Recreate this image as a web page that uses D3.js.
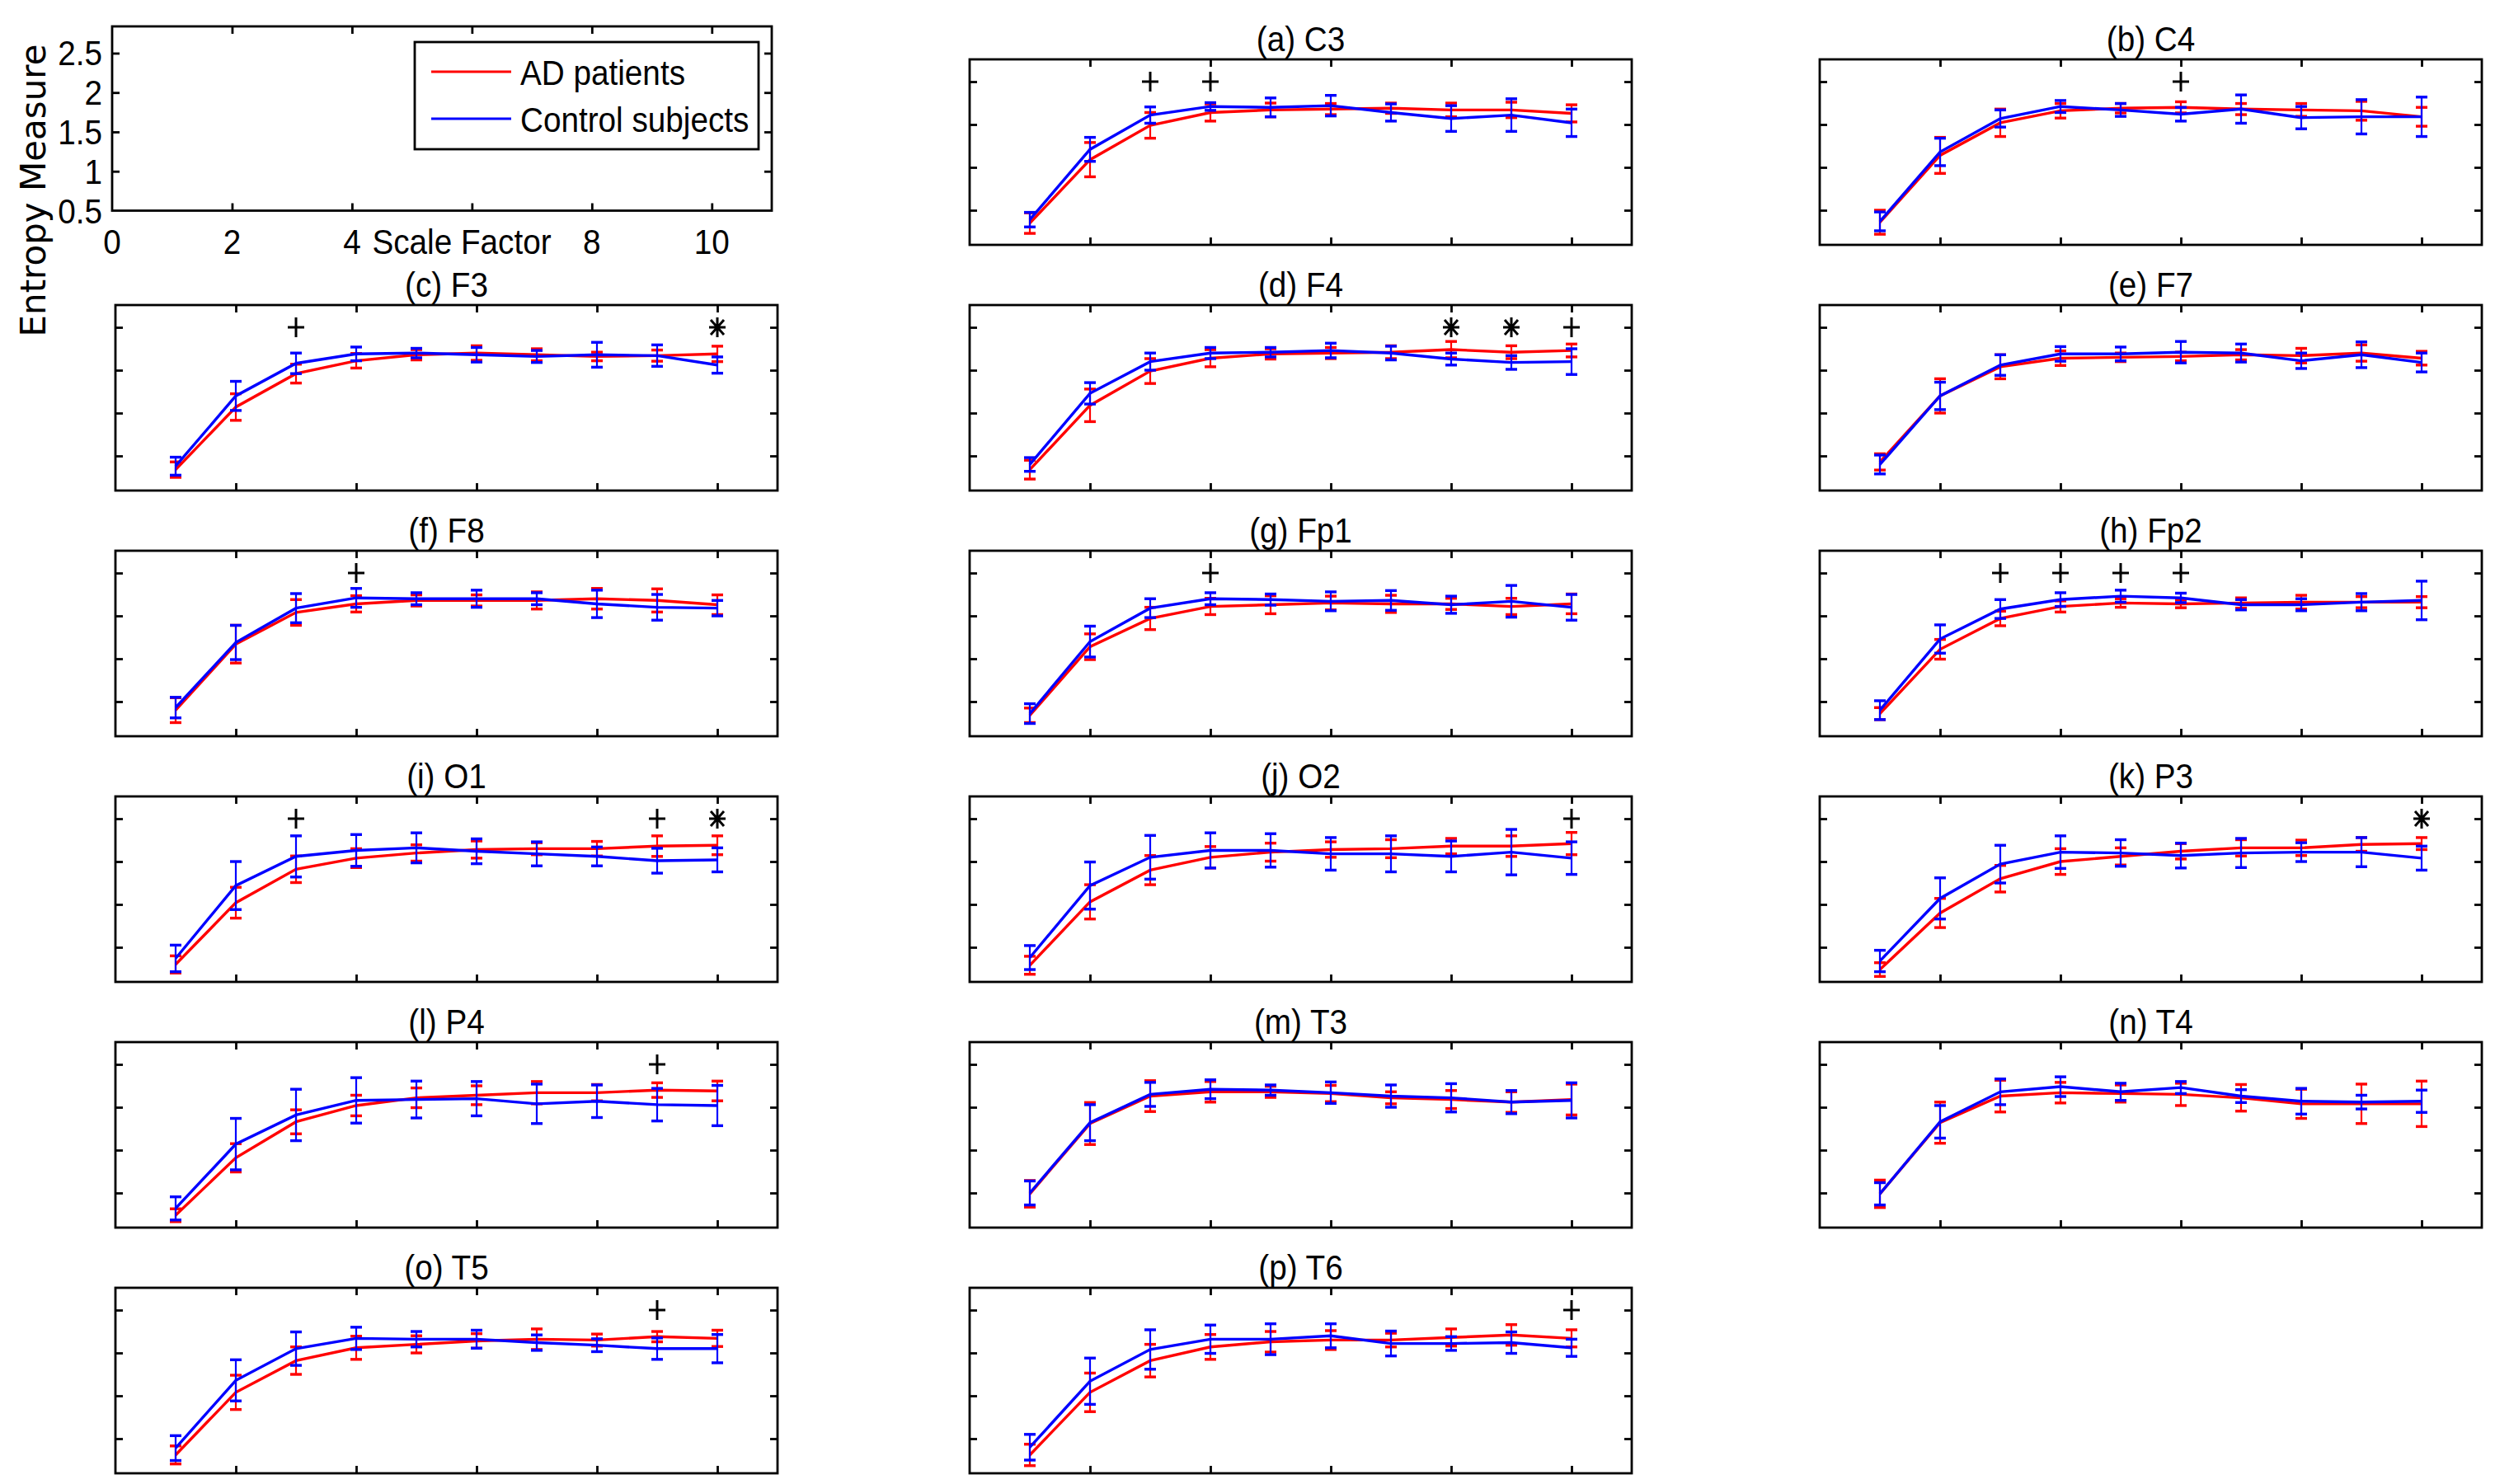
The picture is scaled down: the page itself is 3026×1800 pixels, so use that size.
<!DOCTYPE html>
<html><head><meta charset="utf-8">
<script src="https://cdn.jsdelivr.net/npm/d3@7"></script>
<style>html,body{margin:0;padding:0;background:#fff;}svg{display:block;}</style>
</head><body>
<svg id="chart" width="3026" height="1800"></svg>
<script>
const scales = [1,2,3,4,5,6,7,8,9,10];
const titles = ["(a) C3","(b) C4","(c) F3","(d) F4","(e) F7","(f) F8","(g) Fp1","(h) Fp2",
  "(i) O1","(j) O2","(k) P3","(l) P4","(m) T3","(n) T4","(o) T5","(p) T6"];
const adMean = [
  [0.35,1.09,1.49,1.64,1.67,1.68,1.69,1.67,1.67,1.63],
  [0.36,1.14,1.52,1.66,1.69,1.70,1.68,1.67,1.66,1.59],
  [0.34,1.07,1.46,1.61,1.68,1.70,1.68,1.66,1.67,1.69],
  [0.34,1.09,1.49,1.64,1.69,1.70,1.71,1.74,1.71,1.73],
  [0.43,1.20,1.54,1.64,1.65,1.66,1.68,1.67,1.70,1.64],
  [0.40,1.17,1.54,1.64,1.68,1.68,1.68,1.70,1.68,1.63],
  [0.34,1.14,1.47,1.61,1.63,1.65,1.64,1.64,1.61,1.64],
  [0.36,1.11,1.47,1.61,1.65,1.64,1.65,1.66,1.66,1.66],
  [0.30,1.02,1.41,1.54,1.60,1.64,1.65,1.65,1.68,1.69],
  [0.29,1.03,1.40,1.55,1.61,1.64,1.65,1.68,1.68,1.71],
  [0.24,0.90,1.30,1.50,1.56,1.62,1.66,1.66,1.70,1.71],
  [0.24,0.91,1.33,1.52,1.61,1.64,1.67,1.67,1.70,1.69],
  [0.49,1.31,1.63,1.68,1.68,1.66,1.61,1.59,1.56,1.59],
  [0.49,1.32,1.63,1.67,1.66,1.65,1.61,1.54,1.54,1.54],
  [0.31,1.04,1.41,1.56,1.60,1.64,1.66,1.65,1.69,1.67],
  [0.31,1.04,1.41,1.57,1.63,1.65,1.65,1.68,1.71,1.67]
];
const ctrlMean = [
  [0.39,1.21,1.61,1.71,1.70,1.72,1.64,1.57,1.61,1.52],
  [0.37,1.18,1.57,1.71,1.67,1.62,1.68,1.58,1.59,1.59],
  [0.38,1.20,1.58,1.69,1.70,1.68,1.66,1.68,1.67,1.56],
  [0.40,1.23,1.60,1.70,1.71,1.73,1.70,1.63,1.59,1.60],
  [0.40,1.20,1.56,1.69,1.69,1.71,1.70,1.61,1.68,1.59],
  [0.43,1.19,1.59,1.71,1.70,1.70,1.70,1.64,1.60,1.59],
  [0.36,1.20,1.59,1.70,1.69,1.67,1.68,1.63,1.67,1.60],
  [0.40,1.23,1.58,1.69,1.73,1.71,1.63,1.63,1.66,1.68],
  [0.37,1.22,1.56,1.63,1.66,1.62,1.59,1.56,1.51,1.52],
  [0.38,1.22,1.55,1.63,1.63,1.59,1.59,1.56,1.61,1.54],
  [0.34,1.07,1.47,1.61,1.60,1.57,1.60,1.61,1.61,1.54],
  [0.32,1.07,1.41,1.58,1.59,1.60,1.54,1.57,1.53,1.52],
  [0.50,1.32,1.65,1.71,1.70,1.67,1.63,1.61,1.56,1.58],
  [0.49,1.33,1.68,1.74,1.68,1.73,1.63,1.57,1.56,1.57],
  [0.39,1.18,1.55,1.67,1.66,1.66,1.62,1.59,1.55,1.55],
  [0.40,1.17,1.54,1.66,1.66,1.70,1.61,1.61,1.62,1.56]
];
const adErr = [
  [0.12,0.20,0.15,0.10,0.08,0.065,0.06,0.08,0.09,0.10],
  [0.14,0.21,0.16,0.085,0.055,0.065,0.065,0.075,0.11,0.11],
  [0.09,0.155,0.11,0.085,0.06,0.085,0.07,0.05,0.065,0.09],
  [0.11,0.19,0.145,0.10,0.06,0.065,0.075,0.095,0.075,0.075],
  [0.095,0.20,0.14,0.085,0.05,0.05,0.06,0.085,0.095,0.08],
  [0.145,0.22,0.15,0.095,0.065,0.065,0.10,0.12,0.135,0.115],
  [0.085,0.15,0.13,0.095,0.105,0.08,0.10,0.065,0.095,0.115],
  [0.07,0.115,0.085,0.065,0.05,0.045,0.06,0.08,0.065,0.065],
  [0.10,0.18,0.155,0.11,0.095,0.10,0.07,0.085,0.12,0.11],
  [0.105,0.20,0.17,0.125,0.105,0.09,0.105,0.09,0.12,0.13],
  [0.08,0.17,0.155,0.15,0.10,0.09,0.095,0.09,0.08,0.07],
  [0.075,0.165,0.14,0.12,0.115,0.11,0.13,0.095,0.085,0.115],
  [0.155,0.245,0.18,0.12,0.065,0.095,0.07,0.105,0.12,0.18],
  [0.16,0.24,0.185,0.12,0.10,0.13,0.155,0.17,0.23,0.265],
  [0.105,0.20,0.16,0.135,0.10,0.085,0.12,0.07,0.06,0.095],
  [0.125,0.225,0.19,0.145,0.12,0.11,0.08,0.10,0.12,0.10]
];
const ctrlErr = [
  [0.085,0.14,0.095,0.045,0.11,0.12,0.10,0.15,0.19,0.16],
  [0.11,0.16,0.10,0.07,0.075,0.08,0.165,0.13,0.20,0.23],
  [0.105,0.17,0.12,0.08,0.055,0.085,0.07,0.145,0.125,0.095],
  [0.08,0.125,0.10,0.065,0.055,0.085,0.08,0.07,0.08,0.15],
  [0.11,0.16,0.12,0.085,0.08,0.125,0.105,0.09,0.15,0.11],
  [0.12,0.20,0.17,0.11,0.07,0.10,0.07,0.16,0.15,0.09],
  [0.115,0.18,0.11,0.07,0.065,0.11,0.115,0.10,0.185,0.15],
  [0.11,0.165,0.11,0.08,0.07,0.055,0.06,0.07,0.10,0.225],
  [0.155,0.28,0.24,0.185,0.175,0.145,0.14,0.11,0.145,0.14],
  [0.14,0.275,0.255,0.205,0.195,0.19,0.21,0.18,0.265,0.19],
  [0.125,0.24,0.22,0.19,0.155,0.145,0.17,0.11,0.17,0.14],
  [0.135,0.30,0.30,0.265,0.215,0.20,0.23,0.19,0.19,0.235],
  [0.14,0.21,0.14,0.11,0.06,0.125,0.13,0.165,0.135,0.205],
  [0.13,0.19,0.15,0.115,0.10,0.07,0.075,0.15,0.08,0.13],
  [0.145,0.24,0.195,0.13,0.09,0.105,0.09,0.075,0.125,0.165],
  [0.15,0.27,0.23,0.165,0.18,0.14,0.145,0.08,0.125,0.10]
];
// significance markers ("+" and "*") drawn at entropy 2.0
const sigPlus = [[3,4],[6],[3],[10],[],[4],[4],[3,4,5,6],[3,9],[10],[],[9],[],[],[9],[10]];
const sigStar = [[],[],[10],[8,9],[],[],[],[],[10],[],[10],[],[],[],[],[]];
const markerLevel = 2.0;
const seriesNames = ["AD patients","Control subjects"];
const seriesColors = ["#ff0000","#0000ff"];
const xDomain = [0,11];
const xTicks = [2,4,6,8,10];
const yDomain = [0.096,2.26];
const yTicks = [0.5,1,1.5,2];
const legendYDomain = [0.5,2.84];
const legendYTicks = [1,1.5,2,2.5];
const legendYTickLabels = ["0.5","1","1.5","2","2.5"];
const legendYTickValues = [0.5,1,1.5,2,2.5];
const legendXTickValues = [0,2,4,8,10];
const legendXTickLabels = ["0","2","4","8","10"];

const svg = d3.select("#chart");
const FONT = "'Liberation Sans', Arial, sans-serif";
const colLeft = [140, 1176, 2207];
const PW = 803, PH = 225;
const rowTop = r => 72 + 298*r;

function ctext(g, x, y, str, anchor, size) {
  return g.append("text")
    .attr("transform", `translate(${x},${y}) scale(0.9,1)`)
    .attr("text-anchor", anchor)
    .attr("font-family", FONT)
    .attr("font-size", size)
    .attr("fill", "#000")
    .text(str);
}

function PHh(y){ return y.range()[0]-y.range()[1]; }
function drawFrame(g, x, y, L, T, xt, yt) {
  const tl = 9;
  const axes = [
    g.append("g").attr("transform", `translate(0,${T+PHh(y)})`).call(d3.axisBottom(x).tickValues(xt).tickSize(-tl).tickFormat("")),
    g.append("g").attr("transform", `translate(0,${T})`).call(d3.axisTop(x).tickValues(xt).tickSize(-tl).tickFormat("")),
    g.append("g").attr("transform", `translate(${L},0)`).call(d3.axisLeft(y).tickValues(yt).tickSize(-tl).tickFormat("")),
    g.append("g").attr("transform", `translate(${x.range()[1]},0)`).call(d3.axisRight(y).tickValues(yt).tickSize(-tl).tickFormat(""))
  ];
  axes.forEach(a => {
    a.select(".domain").remove();
    a.selectAll(".tick line").attr("stroke", "#000").attr("stroke-width", 2.8);
  });
  g.append("rect").attr("x", x.range()[0]).attr("y", y.range()[1])
    .attr("width", x.range()[1]-x.range()[0]).attr("height", y.range()[0]-y.range()[1])
    .attr("fill", "none").attr("stroke", "#000").attr("stroke-width", 2.8);
}

// Legend / label panel
(function(){
  const L = 136, R = 936, T = 32, B = 256;
  const x = d3.scaleLinear().domain(xDomain).range([L, R]);
  const y = d3.scaleLinear().domain(legendYDomain).range([B-0.5, T]);
  const g = svg.append("g");
  drawFrame(g, x, y, L, T, xTicks, legendYTicks);
  legendYTickValues.forEach((v,i) => ctext(g, L-12, y(v)+15, legendYTickLabels[i], "end", 43));
  legendXTickValues.forEach((v,i) => ctext(g, x(v), 308, legendXTickLabels[i], "middle", 43));
  ctext(g, 560, 308, "Scale Factor", "middle", 43);
  g.append("rect").attr("x", 503).attr("y", 51).attr("width", 417).attr("height", 130)
    .attr("fill", "#fff").attr("stroke", "#000").attr("stroke-width", 2.8);
  seriesNames.forEach((name, i) => {
    const ly = 87 + i*57;
    g.append("line").attr("x1", 523).attr("x2", 620).attr("y1", ly).attr("y2", ly)
      .attr("stroke", seriesColors[i]).attr("stroke-width", 3);
    ctext(g, 631, ly+15.5, name, "start", 43);
  });
  svg.append("text").attr("transform", "translate(55,231) rotate(-90)")
    .attr("text-anchor", "middle").attr("font-family", "'DejaVu Sans', sans-serif")
    .attr("font-size", 42).attr("fill", "#000").text("Entropy Measure");
})();

function plusPath(cx, cy) {
  return `M${cx-10},${cy}L${cx+10},${cy}M${cx},${cy-12}L${cx},${cy+12}`;
}
function starPath(cx, cy) {
  return plusPath(cx, cy) + `M${cx-8},${cy-9}L${cx+8},${cy+9}M${cx-8},${cy+9}L${cx+8},${cy-9}`;
}

titles.forEach((title, i) => {
  const slot = i + 1;
  const r = Math.floor(slot/3), c = slot % 3;
  const L = colLeft[c], T = rowTop(r);
  const x = d3.scaleLinear().domain(xDomain).range([L, L+PW]);
  const y = d3.scaleLinear().domain(yDomain).range([T+PH, T]);
  const g = svg.append("g");
  drawFrame(g, x, y, L, T, xTicks, yTicks);
  ctext(g, L + PW/2, T - 10, title, "middle", 43);

  [[adMean[i], adErr[i]], [ctrlMean[i], ctrlErr[i]]].forEach(([m, e], s) => {
    const col = seriesColors[s];
    const pts = scales.map((sc, k) => ({sc, m: m[k], e: e[k]}));
    g.append("path").datum(pts)
      .attr("d", d3.line().x(d => x(d.sc)).y(d => y(d.m)))
      .attr("fill", "none").attr("stroke", col).attr("stroke-width", 3.4);
    const eb = g.append("g");
    pts.forEach(d => {
      const cx = x(d.sc), y1 = y(d.m + d.e), y2 = y(d.m - d.e);
      eb.append("line").attr("x1", cx).attr("x2", cx).attr("y1", y1).attr("y2", y2)
        .attr("stroke", col).attr("stroke-width", 2.2);
      [y1, y2].forEach(yy => eb.append("line").attr("x1", cx-7).attr("x2", cx+7)
        .attr("y1", yy).attr("y2", yy).attr("stroke", col).attr("stroke-width", 3.4));
    });
  });
  sigPlus[i].forEach(sc => g.append("path").attr("d", plusPath(x(sc), y(markerLevel)))
    .attr("stroke", "#000").attr("stroke-width", 3).attr("fill", "none"));
  sigStar[i].forEach(sc => g.append("path").attr("d", starPath(x(sc), y(markerLevel)))
    .attr("stroke", "#000").attr("stroke-width", 3).attr("fill", "none"));
});
</script>
</body></html>
